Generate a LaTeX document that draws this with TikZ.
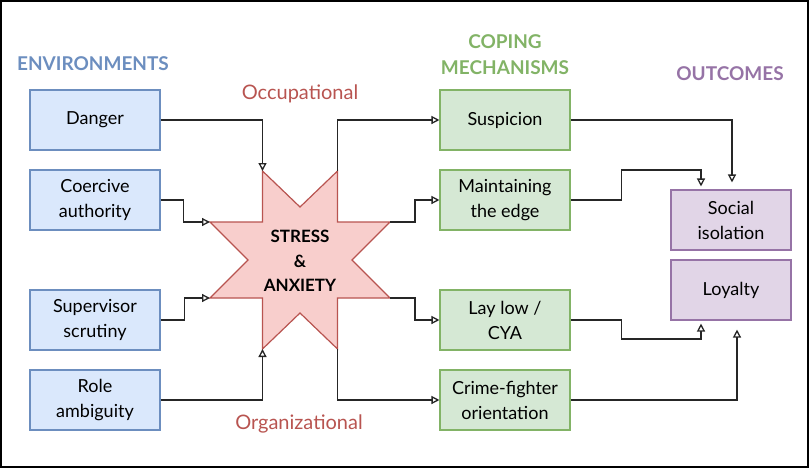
\documentclass[tikz,border=0pt]{standalone}
\usepackage{fontspec}
\setmainfont{Lato}
\usetikzlibrary{arrows.meta}

\definecolor{envline}{HTML}{6C8EBF}
\definecolor{envfill}{HTML}{DAE8FC}
\definecolor{copeline}{HTML}{82B366}
\definecolor{copefill}{HTML}{D5E8D4}
\definecolor{outline}{HTML}{9673A6}
\definecolor{outfill}{HTML}{E1D5E7}
\definecolor{starline}{HTML}{B85450}
\definecolor{starfill}{HTML}{F8CECC}

\begin{document}
\begin{tikzpicture}[x=1pt,y=-1pt,
    box/.style={line width=1.1pt,minimum height=60pt,align=center,
        font=\fontsize{18}{25}\selectfont},
    envbox/.style={box,draw=envline,fill=envfill,minimum width=130pt},
    copebox/.style={box,draw=copeline,fill=copefill,minimum width=130pt},
    outbox/.style={box,draw=outline,fill=outfill,minimum width=120pt},
    head/.style={font=\fontsize{19}{26}\selectfont\bfseries,align=center},
    link/.style={-{Triangle[open,length=8pt,width=8pt]},line width=1.3pt,black!85}
]

\useasboundingbox (0,0) rectangle (811,471);

% Frame
\draw[line width=1.2pt] (1,1) rectangle (808,467);

% Headings
\node[head,text=envline] (envhead) at (93,64) {ENVIRONMENTS};
\node[head,text=copeline] (copehead) at (505,55) {COPING\\MECHANISMS};
\node[head,text=outline] (outhead) at (730,74) {OUTCOMES};
\node[font=\fontsize{20}{26}\selectfont,text=starline] (occ) at (300,94) {Occupational};
\node[font=\fontsize{20}{26}\selectfont,text=starline] (org) at (299,424) {Organizational};

% Environments
\node[envbox] (danger) at (95,120) {Danger};
\node[envbox] (coercive) at (95,200) {Coercive\\authority};
\node[envbox] (supervisor) at (95,320) {Supervisor\\scrutiny};
\node[envbox] (role) at (95,400) {Role\\ambiguity};

% Star points
\coordinate (stl) at (262.5,171);
\coordinate (str) at (337.5,171);
\coordinate (srt) at (390,222);
\coordinate (srb) at (390,298);
\coordinate (sbr) at (337.5,349);
\coordinate (sbl) at (262.5,349);
\coordinate (slb) at (210,298);
\coordinate (slt) at (210,222);

% Star
\draw[line width=1.2pt,draw=starline,fill=starfill]
    (stl) -- (300,207) -- (str) -- (337.5,222) -- (srt) -- (352,260)
    -- (srb) -- (337.5,298) -- (sbr) -- (300,313) -- (sbl) -- (262.5,298)
    -- (slb) -- (248,260) -- (slt) -- (262.5,222) -- cycle;
\node[font=\fontsize{17}{24.5}\selectfont\bfseries,align=center] (stress) at (300,261)
    {STRESS\\\&\\ANXIETY};

% Coping mechanisms
\node[copebox] (suspicion) at (505,120) {Suspicion};
\node[copebox] (edge) at (505,200) {Maintaining\\the edge};
\node[copebox] (laylow) at (505,320) {Lay low /\\CYA};
\node[copebox] (crime) at (505,400) {Crime-fighter\\orientation};

% Outcomes
\node[outbox] (social) at (731,220) {Social\\isolation};
\node[outbox] (loyalty) at (731,290) {Loyalty};

% Into the star
\draw[link] (danger.east) -| (stl);
\draw[link] (coercive.east) -- ++(23,0) |- (slt);
\draw[link] (supervisor.east) -- ++(24,0) |- (slb);
\draw[link] (role.east) -| (sbl);

% Out of the star
\draw[link] (str) |- (suspicion.west);
\draw[link] (srt) -- ++(25,0) |- (edge.west);
\draw[link] (srb) -- ++(25,0) |- (laylow.west);
\draw[link] (sbr) |- (crime.west);

% To the outcomes
\draw[link,shorten >=7pt] (suspicion.east) -| ([xshift=1pt]social.north);
\draw[link,shorten >=3pt] (edge.east) -- ++(51,0) -- ++(0,-30) -| ([xshift=-30pt]social.north);
\draw[link,shorten >=3pt] (laylow.east) -- ++(51,0) -- ++(0,19) -| ([xshift=-30pt]loyalty.south);
\draw[link,shorten >=9pt] (crime.east) -| ([xshift=6pt]loyalty.south);

\end{tikzpicture}
\end{document}
